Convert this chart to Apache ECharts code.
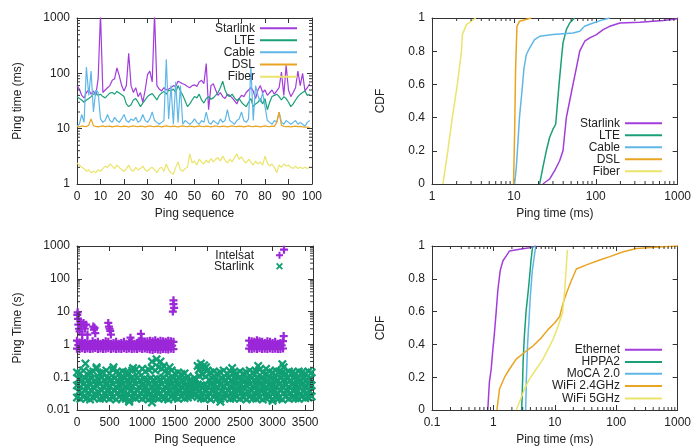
<!DOCTYPE html>
<html>
<head>
<meta charset="utf-8">
<script src="https://cdn.jsdelivr.net/npm/echarts@6/dist/echarts.min.js"></script>
<style>
html, body { margin: 0; padding: 0; background: #fff; }
#chart { width: 694px; height: 447px; }
</style>
</head>
<body>
<div id="chart"></div>
<script>
// ---------- top left: ping time per sequence (ms)
const pingSeq = Array.from({ length: 100 }, (_, i) => i);
const tsStarlink = [
  60, 52, 40, 36, 45, 50, 42, 48, 40, 80,
  1200, 45, 50, 55, 60, 75, 80, 125, 90, 60,
  48, 60, 230, 60, 45, 55, 38, 45, 30, 50,
  95, 110, 70, 1200, 60, 52, 48, 55, 50, 52,
  55, 60, 58, 72, 68, 65, 62, 58, 55, 60,
  62, 58, 70, 75, 65, 150, 22, 60, 65, 50,
  40, 45, 38, 35, 42, 40, 36, 32, 28, 35,
  40, 38, 45, 50, 55, 48, 35, 50, 60, 45,
  50, 40, 45, 50, 42, 48, 55, 105, 40, 140,
  50, 38, 45, 55, 110, 60, 100, 48, 55, 65
];
const tsLte = [
  38, 35, 33, 30, 33, 35, 38, 42, 44, 40,
  42, 38, 36, 40, 44, 45, 42, 47, 44, 41,
  38, 28, 25, 27, 33, 35, 30, 25, 29, 33,
  38, 41, 43, 38, 33, 40, 44, 47, 42, 50,
  48, 52, 45, 60, 48, 40, 32, 25, 28, 33,
  38, 36, 42, 33, 29, 35, 38, 34, 36, 40,
  45, 55, 72, 50, 40, 38, 42, 36, 32, 35,
  30, 27, 25, 30, 35, 25, 28, 30, 35, 28,
  35, 22, 30, 38, 40, 42, 38, 33, 38, 35,
  30, 25, 28, 33, 38, 42, 45, 48, 40, 42
];
const tsCable = [
  11, 12, 18, 13, 130, 40, 110, 20, 50, 45,
  15, 13, 14, 18, 14, 13, 16, 14, 13, 15,
  18, 14, 13, 15, 14, 16, 13, 14, 18, 14,
  13, 15, 20, 14, 13, 12, 13, 14, 180, 15,
  60, 12, 70, 13, 60, 12, 14, 13, 12, 13,
  15, 13, 12, 14, 13, 20, 13, 12, 14, 13,
  12, 15, 13, 14, 22, 14, 13, 12, 14, 15,
  20, 14, 13, 15, 130, 14, 60, 40, 30, 45,
  25, 14, 13, 12, 14, 13, 20, 13, 12, 14,
  13, 12, 13, 14, 12, 13, 12, 11, 13, 14
];
const tsDsl = [
  11, 10.8, 11.2, 11, 10.9, 11.5, 15, 11.3, 11, 10.8,
  11, 11.2, 10.9, 11, 11.1, 10.8, 11, 11.2, 11, 10.9,
  11.1, 11, 10.8, 11, 11.2, 11, 10.9, 11.1, 11, 10.8,
  11, 11.2, 11, 10.9, 11.1, 11, 10.8, 11, 11.2, 11,
  10.9, 11.1, 11, 10.8, 11, 11.2, 11, 10.9, 11.1, 11,
  10.8, 11, 11.2, 11, 10.9, 11.1, 11, 10.8, 11, 11.2,
  11, 10.9, 11.1, 11, 10.8, 11, 11.2, 11, 10.9, 11.1,
  11, 10.8, 11, 11.2, 11, 10.9, 11.1, 11, 10.8, 11,
  11.2, 11, 10.9, 11.1, 11, 13, 20, 11.5, 11, 10.9,
  11, 10.8, 11, 11.1, 10.9, 11, 10.8, 10.6, 10.7, 10.5
];
const tsFiber = [
  2.4, 2.2, 2.0, 1.9, 1.7, 1.8, 1.6, 1.7, 1.6, 1.8,
  1.7, 1.9, 2.1, 2.0, 2.3, 2.1, 1.9, 2.2, 2.0, 1.8,
  1.7, 1.9, 2.2, 1.8, 1.7, 2.0, 1.8, 1.9, 2.1, 1.8,
  1.7, 1.9, 2.0, 1.8, 1.6, 1.9, 2.0, 1.7, 2.3, 1.8,
  1.6, 1.5, 2.0, 2.5, 1.8, 1.7, 1.9, 2.0, 3.5, 2.4,
  2.6, 2.2, 2.8, 2.5, 2.3, 2.7, 2.4, 2.9, 2.5, 2.8,
  3.0, 2.6, 3.2, 2.7, 2.4, 2.8, 2.5, 3.0, 3.5, 2.8,
  3.1, 2.6, 2.4, 2.8, 2.5, 2.2, 2.6, 2.3, 2.5, 2.2,
  3.2, 2.4, 2.1, 2.3, 2.0, 1.6, 2.2, 2.0, 2.3, 2.1,
  2.2, 2.0, 1.9, 2.1, 1.9, 2.0, 1.9, 2.0, 1.9, 2.0
];

// ---------- top right: CDF of ping time (ms)
const cdfStarlinkMs = [22.6, 27.3, 31.5, 36.2, 39.8, 41.7, 43.7, 48, 52.7, 58, 63.7, 73.3, 84.5, 102, 123, 148, 197, 346, 667, 1000];
const cdfStarlinkP = [0, 0.03, 0.08, 0.14, 0.2, 0.3, 0.4, 0.5, 0.6, 0.7, 0.8, 0.86, 0.88, 0.9, 0.93, 0.95, 0.97, 0.975, 0.985, 0.995];
const cdfLteMs = [20.6, 21.6, 22.6, 24.9, 27.3, 30, 32.4, 33.6, 35.6, 38, 39.8, 43.7, 48, 55.3];
const cdfLteP = [0, 0.05, 0.1, 0.2, 0.28, 0.33, 0.36, 0.45, 0.6, 0.75, 0.85, 0.93, 0.97, 1];
const cdfCableMs = [10.2, 10.7, 11.2, 11.7, 12.5, 13.3, 14.2, 15.6, 17.9, 20.6, 30, 52.7, 63.7, 73, 92.7, 123, 148];
const cdfCableP = [0, 0.1, 0.25, 0.4, 0.55, 0.7, 0.78, 0.82, 0.87, 0.89, 0.9, 0.91, 0.92, 0.95, 0.97, 0.99, 1];
const cdfDslMs = [9.9, 10.2, 10.5, 10.9, 11.7, 16.3];
const cdfDslP = [0, 0.3, 0.7, 0.95, 0.98, 1];
const cdfFiberMs = [1.36, 1.56, 1.77, 2.04, 2.29, 2.35, 2.63, 3.43];
const cdfFiberP = [0, 0.2, 0.4, 0.6, 0.8, 0.9, 0.96, 1];

// ---------- bottom left: satellite ping time (s)
const slSeq = [
  0, 50, 100, 150, 200, 250, 300, 350, 400, 450,
  500, 550, 600, 650, 700, 750, 800, 850, 900, 950,
  1000, 1050, 1100, 1150, 1200, 1250, 1300, 1350, 1400, 1450,
  1500, 1550, 1600, 1650, 1700, 1750, 1800, 1850, 1900, 1950,
  2000, 2050, 2100, 2150, 2200, 2250, 2300, 2350, 2400, 2450,
  2500, 2550, 2600, 2650, 2700, 2750, 2800, 2850, 2900, 2950,
  3000, 3050, 3100, 3150, 3200, 3250, 3300, 3350, 3400, 3450,
  3500, 3550, 3600
];
const slSeqB = [
  25, 75, 125, 175, 225, 275, 325, 375, 425, 475,
  525, 575, 625, 675, 725, 775, 825, 875, 925, 975,
  1025, 1075, 1125, 1175, 1225, 1275, 1325, 1375, 1425, 1475,
  1525, 1575, 1625, 1675, 1725, 1775, 1825, 1875, 1925, 1975,
  2025, 2075, 2125, 2175, 2225, 2275, 2325, 2375, 2425, 2475,
  2525, 2575, 2625, 2675, 2725, 2775, 2825, 2875, 2925, 2975,
  3025, 3075, 3125, 3175, 3225, 3275, 3325, 3375, 3425, 3475,
  3525, 3575
];
const slLow = [
  0.024, 0.022, 0.025, 0.023, 0.021, 0.024, 0.026, 0.022, 0.023, 0.025,
  0.022, 0.024, 0.021, 0.025, 0.023, 0.022, 0.020, 0.024, 0.023, 0.025,
  0.022, 0.024, 0.021, 0.023, 0.025, 0.022, 0.024, 0.023, 0.021, 0.025,
  0.024, 0.022, 0.025, 0.023, 0.024, 0.027, 0.028, 0.025, 0.023, 0.022,
  0.024, 0.021, 0.025, 0.023, 0.022, 0.024, 0.026, 0.022, 0.023, 0.025,
  0.022, 0.024, 0.021, 0.025, 0.023, 0.022, 0.024, 0.021, 0.023, 0.025,
  0.022, 0.024, 0.023, 0.021, 0.025, 0.022, 0.024, 0.023, 0.022, 0.025,
  0.023, 0.024, 0.026
];
// staggered half a column (slSeqB)
const slLowMid = [
  0.036, 0.033, 0.038, 0.034, 0.037, 0.032, 0.035, 0.039, 0.033, 0.036,
  0.034, 0.038, 0.033, 0.036, 0.035, 0.032, 0.037, 0.034, 0.038, 0.033,
  0.036, 0.034, 0.032, 0.037, 0.035, 0.033, 0.038, 0.034, 0.036, 0.033,
  0.035, 0.037, 0.034, 0.036, 0.038, 0.040, 0.042, 0.037, 0.034, 0.036,
  0.033, 0.037, 0.035, 0.032, 0.036, 0.034, 0.038, 0.033, 0.035, 0.037,
  0.034, 0.032, 0.036, 0.038, 0.033, 0.035, 0.037, 0.034, 0.032, 0.036,
  0.035, 0.033, 0.038, 0.034, 0.036, 0.033, 0.037, 0.035, 0.032, 0.036,
  0.034, 0.037
];
const slMid = [
  0.056, 0.052, 0.060, 0.054, 0.058, 0.051, 0.055, 0.062, 0.053, 0.057,
  0.054, 0.060, 0.052, 0.056, 0.058, 0.053, 0.057, 0.055, 0.061, 0.052,
  0.056, 0.054, 0.059, 0.053, 0.057, 0.055, 0.060, 0.052, 0.056, 0.058,
  0.054, 0.057, 0.053, 0.056, 0.055, 0.058, 0.062, 0.060, 0.057, 0.055,
  0.053, 0.058, 0.056, 0.052, 0.057, 0.054, 0.060, 0.053, 0.056, 0.058,
  0.054, 0.052, 0.057, 0.060, 0.053, 0.056, 0.058, 0.054, 0.052, 0.057,
  0.056, 0.053, 0.059, 0.054, 0.057, 0.052, 0.058, 0.055, 0.053, 0.057,
  0.054, 0.058, 0.056
];
// staggered half a column (slSeqB)
const slHighMid = [
  0.088, 0.082, 0.092, 0.085, 0.090, 0.080, 0.087, 0.095, 0.083, 0.089,
  0.085, 0.093, 0.082, 0.088, 0.091, 0.084, 0.089, 0.086, 0.094, 0.081,
  0.088, 0.085, 0.092, 0.083, 0.090, 0.086, 0.094, 0.082, 0.088, 0.091,
  0.085, 0.089, 0.083, 0.087, 0.080, 0.072, 0.085, 0.110, 0.120, 0.105,
  0.084, 0.091, 0.088, 0.082, 0.089, 0.085, 0.093, 0.083, 0.088, 0.090,
  0.085, 0.082, 0.089, 0.093, 0.083, 0.087, 0.091, 0.085, 0.082, 0.089,
  0.087, 0.083, 0.092, 0.085, 0.089, 0.082, 0.090, 0.086, 0.083, 0.089,
  0.085, 0.090
];
const slHigh = [
  0.140, 0.130, 0.160, 0.125, 0.140, 0.150, 0.180, 0.130, 0.140, 0.160,
  0.130, 0.170, 0.140, 0.130, 0.150, 0.140, 0.130, 0.160, 0.170, 0.140,
  0.180, 0.150, 0.170, 0.190, 0.160, 0.200, 0.180, 0.150, 0.140, 0.160,
  0.130, 0.140, 0.125, 0.130, 0.105, 0.075, 0.095, 0.220, 0.260, 0.230,
  0.160, 0.140, 0.150, 0.130, 0.140, 0.160, 0.130, 0.150, 0.140, 0.130,
  0.150, 0.130, 0.140, 0.160, 0.140, 0.150, 0.170, 0.140, 0.130, 0.150,
  0.140, 0.160, 0.150, 0.140, 0.130, 0.150, 0.140, 0.130, 0.150, 0.140,
  0.130, 0.150, 0.140
];
const slExtraSeq = [130, 300, 560, 860, 1150, 1220, 1280, 1330, 1420, 1870, 1900, 1950, 1980, 2380, 2780, 2900, 3150, 3170, 800, 1150, 2200, 3000];
const slExtraVal = [0.26, 0.2, 0.2, 0.19, 0.3, 0.35, 0.3, 0.22, 0.2, 0.17, 0.2, 0.18, 0.2, 0.19, 0.22, 0.18, 0.25, 0.2, 0.018, 0.017, 0.018, 0.019];

const isSeq = [
  0, 40, 80, 120, 160, 200, 240, 280, 320, 360,
  400, 440, 480, 520, 560, 600, 640, 680, 720, 760,
  800, 840, 880, 920, 960, 1000, 1040, 1080, 1120, 1160,
  1200, 1240, 1280, 1320, 1360, 1400, 1440, 1480,
  2640, 2680, 2720, 2760, 2800, 2840, 2880, 2920, 2960, 3000, 3040, 3080, 3120, 3160
];
const isSeqB = [
  20, 60, 100, 140, 180, 220, 260, 300, 340, 380,
  420, 460, 500, 540, 580, 620, 660, 700, 740, 780,
  820, 860, 900, 940, 980, 1020, 1060, 1100, 1140, 1180,
  1220, 1260, 1300, 1340, 1380, 1420, 1460,
  2660, 2700, 2740, 2780, 2820, 2860, 2900, 2940, 2980, 3020, 3060, 3100, 3140
];
const isLow = [
  0.74, 0.72, 0.76, 0.73, 0.75, 0.72, 0.74, 0.77, 0.73, 0.75,
  0.72, 0.74, 0.76, 0.73, 0.75, 0.72, 0.74, 0.73, 0.76, 0.72,
  0.75, 0.73, 0.74, 0.72, 0.76, 0.73, 0.75, 0.72, 0.70, 0.68,
  0.72, 0.70, 0.69, 0.73, 0.71, 0.70, 0.74, 0.72,
  0.74, 0.72, 0.75, 0.73, 0.76, 0.72, 0.74, 0.73, 0.75, 0.72, 0.74, 0.73, 0.72, 0.75
];
// staggered (isSeqB)
const isMid = [
  0.95, 0.9, 0.98, 0.92, 0.96, 0.9, 0.94, 0.97, 0.91, 0.95,
  0.93, 0.96, 0.9, 0.94, 0.97, 0.92, 0.95, 0.91, 0.96, 0.93,
  0.95, 0.92, 0.9, 0.94, 0.97, 0.91, 0.95, 0.93, 0.9, 0.92,
  0.95, 0.9, 0.93, 0.96, 0.91, 0.94, 0.92,
  0.94, 0.91, 0.95, 0.93, 0.96, 0.9, 0.94, 0.92, 0.95, 0.91, 0.93, 0.9, 0.94
];
const isHigh = [
  1.3, 1.15, 1.25, 1.1, 1.2, 1.05, 1.25, 1.1, 1.2, 1.05,
  1.1, 1.25, 1.2, 1.05, 1.1, 1.2, 1.05, 1.1, 1.2, 1.05,
  1.1, 1.2, 1.05, 1.1, 1.25, 1.1, 1.2, 1.25, 1.3, 1.25,
  1.35, 1.2, 1.3, 1.25, 1.2, 1.3, 1.25, 1.2,
  1.3, 1.25, 1.2, 1.35, 1.25, 1.2, 1.1, 1.25, 1.2, 1.1, 1.2, 1.05, 1.1, 1.25
];
const isExtraSeq = [5, 10, 15, 20, 30, 40, 50, 60, 80, 100, 110, 120, 140, 160, 250, 260, 270, 280, 480, 490, 500, 510, 520, 820, 980, 990, 1470, 1480, 1480, 1490, 3170, 3175];
const isExtraVal = [8, 9.5, 6, 4, 3, 2.5, 5, 3.5, 2, 4.5, 3.8, 3, 4, 2, 3.5, 2.8, 3.2, 2.2, 4.5, 3.5, 3, 2.6, 2, 1.6, 2.1, 1.5, 10, 17, 22, 13, 1.8, 770];

// ---------- bottom right: home network CDF (ms)
const cdfEthMs = [0.81, 0.86, 0.92, 0.98, 1.04, 1.11, 1.18, 1.29, 1.43, 1.62, 1.83, 2.67, 3.88, 4.99];
const cdfEthP = [0, 0.17, 0.25, 0.37, 0.47, 0.6, 0.73, 0.85, 0.91, 0.94, 0.97, 0.98, 0.99, 1];
const cdfHppaMs = [2.88, 2.95, 3.05, 3.19, 3.4, 3.7, 3.9, 4.1, 4.36];
const cdfHppaP = [0, 0.1, 0.3, 0.45, 0.6, 0.73, 0.82, 0.915, 1];
const cdfMocaMs = [3.35, 3.45, 3.6, 3.8, 4.0, 4.3, 4.6, 4.9];
const cdfMocaP = [0, 0.2, 0.4, 0.55, 0.7, 0.85, 0.93, 1];
const cdfWifi24Ms = [1.14, 1.26, 1.52, 1.83, 2.35, 3.43, 4.4, 6.03, 7.73, 9.93, 12.0, 13.6, 15.4, 18.6, 22.4, 32.7, 53.9, 78.5, 130, 214, 583, 1000];
const cdfWifi24P = [0, 0.13, 0.2, 0.25, 0.31, 0.36, 0.39, 0.44, 0.49, 0.53, 0.57, 0.65, 0.71, 0.79, 0.86, 0.885, 0.915, 0.935, 0.965, 0.985, 0.995, 1];
const cdfWifi5Ms = [2.35, 2.67, 3.22, 3.88, 4.99, 6.41, 7.73, 9.33, 11.3, 13.3, 14.5, 15.4, 16.0];
const cdfWifi5P = [0, 0.05, 0.13, 0.19, 0.25, 0.31, 0.37, 0.43, 0.51, 0.59, 0.73, 0.88, 0.976];

const minorSteps = [2, 3, 4, 5, 6, 7, 8, 9];

// ---------- styling
const font = 'Liberation Sans, Arial, Helvetica, sans-serif';
const ink = '#222';
const purple = '#a23ddb', green = '#1a9f78', blue = '#5fb7e8', orange = '#e9a422', yellow = '#ebe46b';
const satPurple = '#9b27d9', satGreen = '#119f74';
const plusIcon = 'path://M3.6,0H6.4V3.6H10V6.4H6.4V10H3.6V6.4H0V3.6H3.6Z';
const crossIcon = 'path://M1.8,0L5,3.2L8.2,0L10,1.8L6.8,5L10,8.2L8.2,10L5,6.8L1.8,10L0,8.2L3.2,5L0,1.8Z';

let pairs = (xs, ys) => xs.map((x, i) => [x, ys[i]]);
let logLabel = v => String(+Number(v).toPrecision(6));
let decadeMinors = (from, to) => {
    let out = [];
    for (let d = from; d < to; d *= 10) minorSteps.forEach(m => out.push(+(m * d).toPrecision(6)));
    return out;
};

let axis = (gridIndex, type, min, max, opts) => {
    let a = {
        gridIndex, type, min, max,
        axisLine: { show: true, onZero: false, lineStyle: { color: '#333', width: 1 } },
        axisTick: { show: true, inside: true, length: 5, lineStyle: { color: '#333' } },
        splitLine: { show: false },
        axisLabel: { show: false },
        nameTextStyle: { color: ink, fontSize: 12, fontFamily: font }
    };
    return Object.assign(a, opts);
};
let label = formatter => ({ show: true, color: ink, fontSize: 12, fontFamily: font, margin: 7, formatter });

// grid g uses axes 2g (main) and 2g+1 (mirror)
let xAxes = [
    axis(0, 'value', 0, 100, { interval: 10, axisLabel: label(), name: 'Ping sequence', nameLocation: 'middle', nameGap: 24 }),
    axis(0, 'value', 0, 100, { interval: 10, position: 'top' }),
    axis(1, 'log', 1, 1000, { axisLabel: label(logLabel), name: 'Ping time (ms)', nameLocation: 'middle', nameGap: 24 }),
    axis(1, 'log', 1, 1000, { position: 'top' }),
    axis(2, 'value', 0, 3620, { interval: 500, axisLabel: Object.assign(label(v => v % 500 === 0 ? String(v) : ''), { showMaxLabel: false }), name: 'Ping Sequence', nameLocation: 'middle', nameGap: 24 }),
    axis(2, 'value', 0, 3620, { interval: 500, position: 'top' }),
    axis(3, 'log', 0.1, 1000, { axisLabel: label(logLabel), name: 'Ping time (ms)', nameLocation: 'middle', nameGap: 24 }),
    axis(3, 'log', 0.1, 1000, { position: 'top' })
];
let yAxes = [
    axis(0, 'log', 1, 1000, { axisLabel: label(logLabel), name: 'Ping time (ms)', nameLocation: 'middle', nameGap: 53 }),
    axis(0, 'log', 1, 1000, { position: 'right' }),
    axis(1, 'value', 0, 1, { interval: 0.2, axisLabel: label(), name: 'CDF', nameLocation: 'middle', nameGap: 45 }),
    axis(1, 'value', 0, 1, { interval: 0.2, position: 'right' }),
    axis(2, 'log', 0.01, 1000, { axisLabel: label(logLabel), name: 'Ping Time (s)', nameLocation: 'middle', nameGap: 53 }),
    axis(2, 'log', 0.01, 1000, { position: 'right' }),
    axis(3, 'value', 0, 1, { interval: 0.2, axisLabel: label(), name: 'CDF', nameLocation: 'middle', nameGap: 45 }),
    axis(3, 'value', 0, 1, { interval: 0.2, position: 'right' })
];

let line = (name, g, data, color, width) => ({
    name, type: 'line', xAxisIndex: 2 * g, yAxisIndex: 2 * g, data, color,
    showSymbol: false, symbol: 'none', animation: false, clip: true,
    lineStyle: { color, width }, itemStyle: { color }
});
let dots = (name, data, color, symbol, size) => ({
    name, type: 'scatter', xAxisIndex: 4, yAxisIndex: 4, data, symbol, symbolSize: size,
    animation: false, itemStyle: { color, opacity: 1 }
});

// short gnuplot-like minor ticks on both sides of a log axis
let minorTicks = (g, dim, values, lo, hi) => ({
    type: 'custom', xAxisIndex: 2 * g, yAxisIndex: 2 * g, silent: true, clip: false, animation: false, z: 5,
    data: values.map(v => dim === 'y' ? [lo, v] : [v, lo]),
    renderItem: (params, api) => {
        let v = api.value(dim === 'y' ? 1 : 0);
        let a = api.coord(dim === 'y' ? [lo, v] : [v, lo]);
        let b = api.coord(dim === 'y' ? [hi, v] : [v, hi]);
        let style = { stroke: '#333', lineWidth: 1 };
        let len = 3;
        if (dim === 'y') return { type: 'group', children: [
            { type: 'line', shape: { x1: a[0], y1: a[1], x2: a[0] + len, y2: a[1] }, style },
            { type: 'line', shape: { x1: b[0], y1: b[1], x2: b[0] - len, y2: b[1] }, style }
        ] };
        return { type: 'group', children: [
            { type: 'line', shape: { x1: a[0], y1: a[1], x2: a[0], y2: a[1] - len }, style },
            { type: 'line', shape: { x1: b[0], y1: b[1], x2: b[0], y2: b[1] + len }, style }
        ] };
    }
});

let slPoints = [];
[slLow, slMid, slHigh].forEach(level => level.forEach((v, i) => slPoints.push([slSeq[i], v])));
[slLowMid, slHighMid].forEach(level => level.forEach((v, i) => slPoints.push([slSeqB[i], v])));
slExtraSeq.forEach((s, i) => slPoints.push([s, slExtraVal[i]]));
let isPoints = [];
[isLow, isHigh].forEach(level => level.forEach((v, i) => isPoints.push([isSeq[i], v])));
isMid.forEach((v, i) => isPoints.push([isSeqB[i], v]));
isExtraSeq.forEach((s, i) => isPoints.push([s, isExtraVal[i]]));

let series = [
    line('Starlink|ts', 0, pairs(pingSeq, tsStarlink), purple, 1.2),
    line('LTE|ts', 0, pairs(pingSeq, tsLte), green, 1.2),
    line('Cable|ts', 0, pairs(pingSeq, tsCable), blue, 1.2),
    line('DSL|ts', 0, pairs(pingSeq, tsDsl), orange, 1.2),
    line('Fiber|ts', 0, pairs(pingSeq, tsFiber), yellow, 1.2),

    line('Starlink|cdf', 1, pairs(cdfStarlinkMs, cdfStarlinkP), purple, 1.5),
    line('LTE|cdf', 1, pairs(cdfLteMs, cdfLteP), green, 1.5),
    line('Cable|cdf', 1, pairs(cdfCableMs, cdfCableP), blue, 1.5),
    line('DSL|cdf', 1, pairs(cdfDslMs, cdfDslP), orange, 1.5),
    line('Fiber|cdf', 1, pairs(cdfFiberMs, cdfFiberP), yellow, 1.5),

    dots('Intelsat|sat', isPoints, satPurple, plusIcon, 8),
    dots('Starlink|sat', slPoints, satGreen, crossIcon, 9),

    line('Ethernet|lan', 3, pairs(cdfEthMs, cdfEthP), purple, 1.5),
    line('HPPA2|lan', 3, pairs(cdfHppaMs, cdfHppaP), green, 1.5),
    line('MoCA 2.0|lan', 3, pairs(cdfMocaMs, cdfMocaP), blue, 1.5),
    line('WiFi 2.4GHz|lan', 3, pairs(cdfWifi24Ms, cdfWifi24P), orange, 1.5),
    line('WiFi 5GHz|lan', 3, pairs(cdfWifi5Ms, cdfWifi5P), yellow, 1.5),

    minorTicks(0, 'y', decadeMinors(1, 1000), 0, 100),
    minorTicks(1, 'x', decadeMinors(1, 1000), 0, 1),
    minorTicks(2, 'y', decadeMinors(0.01, 1000), 0, 3620),
    minorTicks(3, 'x', decadeMinors(0.1, 1000), 0, 1)
];

let key = (name, right, rowY, icon, w, h, pad) => ({
    data: [name], right, top: rowY - 7, orient: 'vertical', align: 'right',
    icon, itemWidth: w, itemHeight: h, itemGap: 0, padding: 0, selectedMode: false,
    formatter: n => n.split('|')[0],
    textStyle: { color: ink, fontSize: 12, fontFamily: font, padding: [0, pad, 0, 0] }
});
let legends = [
    key('Starlink|ts', 397, 29.3, 'rect', 37, 2, 0),
    key('LTE|ts', 397, 41.3, 'rect', 37, 2, 0),
    key('Cable|ts', 397, 53.3, 'rect', 37, 2, 0),
    key('DSL|ts', 397, 65.5, 'rect', 37, 2, 0),
    key('Fiber|ts', 397, 77.7, 'rect', 37, 2, 0),
    key('Starlink|cdf', 32, 124.3, 'rect', 37, 2, 0),
    key('LTE|cdf', 32, 136.3, 'rect', 37, 2, 0),
    key('Cable|cdf', 32, 148.3, 'rect', 37, 2, 0),
    key('DSL|cdf', 32, 160.3, 'rect', 37, 2, 0),
    key('Fiber|cdf', 32, 172.3, 'rect', 37, 2, 0),
    key('Intelsat|sat', 411, 256.3, plusIcon, 7, 7, 17),
    key('Starlink|sat', 411, 267.3, crossIcon, 7, 7, 17),
    key('Ethernet|lan', 32, 350.7, 'rect', 37, 2, 0),
    key('HPPA2|lan', 32, 363, 'rect', 37, 2, 0),
    key('MoCA 2.0|lan', 32, 374.8, 'rect', 37, 2, 0),
    key('WiFi 2.4GHz|lan', 32, 387, 'rect', 37, 2, 0),
    key('WiFi 5GHz|lan', 32, 399.5, 'rect', 37, 2, 0)
];

let chart = echarts.init(document.getElementById('chart'), null, { renderer: 'canvas' });
chart.setOption({
    backgroundColor: '#fff',
    animation: false,
    textStyle: { fontFamily: font },
    grid: [
        { left: 77, top: 18, width: 235, height: 166 },
        { left: 432, top: 18, width: 246, height: 166 },
        { left: 77, top: 246, width: 236, height: 165 },
        { left: 432, top: 246, width: 246, height: 165 }
    ],
    xAxis: xAxes,
    yAxis: yAxes,
    legend: legends,
    series
});
</script>
</body>
</html>
